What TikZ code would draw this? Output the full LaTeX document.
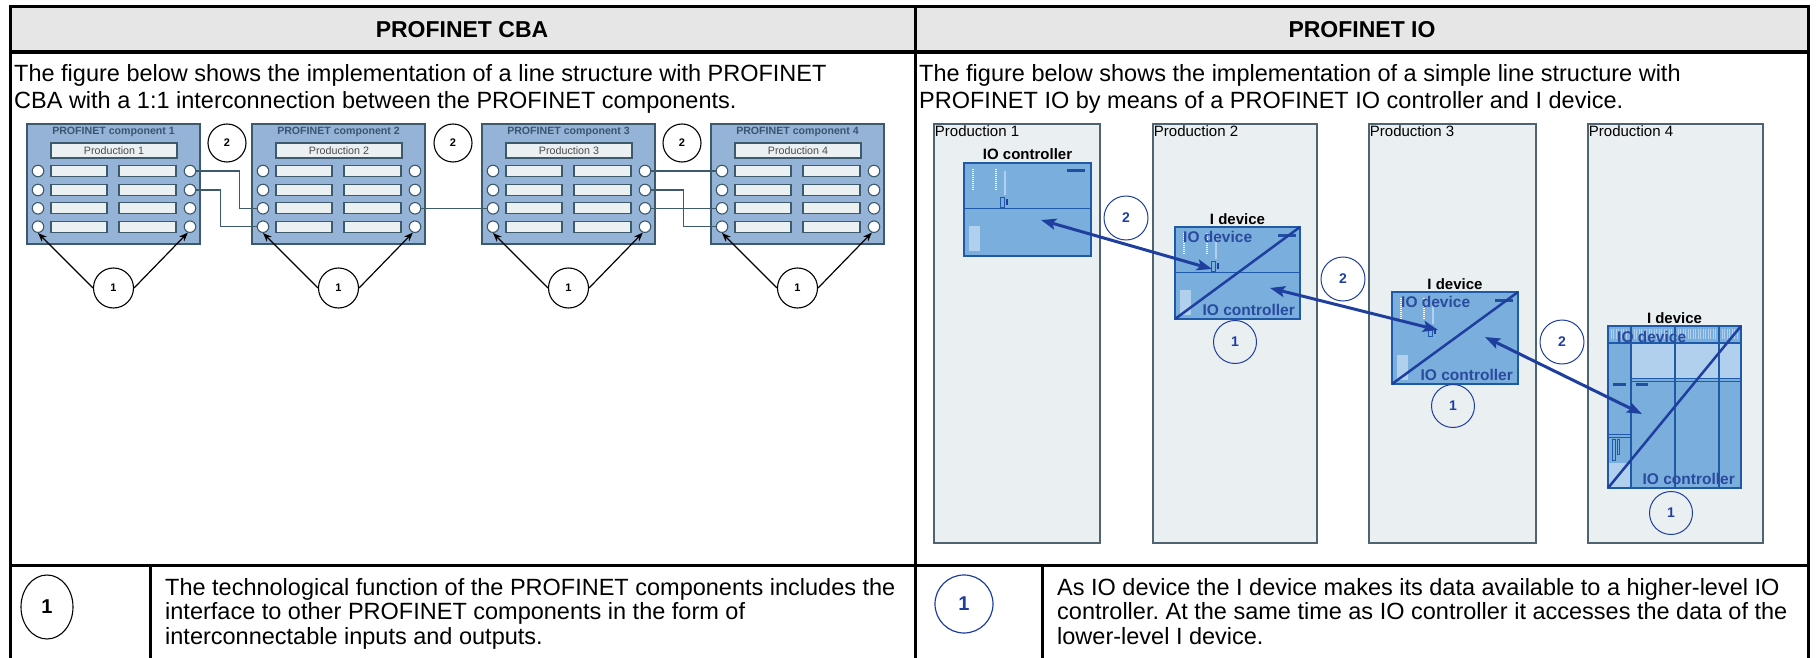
\documentclass[tikz,border=0pt]{standalone}
\usepackage{fontspec}
\setmainfont{Liberation Sans}
\usetikzlibrary{arrows.meta,shapes.geometric}
\definecolor{hdrgray}{HTML}{E6E6E6}
\definecolor{compfill}{HTML}{95B3D7}
\definecolor{compline}{HTML}{3D5A6C}
\definecolor{barfill}{HTML}{EBF0F3}
\definecolor{comptext}{HTML}{3A5570}
\definecolor{prodfill}{HTML}{EAEFF2}
\definecolor{prodline}{HTML}{4F6470}
\definecolor{devfill}{HTML}{7AAEDD}
\definecolor{devline}{HTML}{1E5AA8}
\definecolor{devlight}{HTML}{B0D0EE}
\definecolor{ioblue}{HTML}{1F3F9F}
\definecolor{lblblue}{HTML}{2A4A9E}
\definecolor{devdash}{HTML}{1F4FA0}
\newcommand{\cpudetail}[1]{%
\begin{scope}[shift={(#1.north west)}]
  \draw[white, line width=1.4pt, dash pattern=on 1pt off 1pt] (9,6) -- (9,27);
  \draw[white, line width=1.4pt, dash pattern=on 1pt off 1pt] (32,6) -- (32,27);
  \draw[devlight, line width=1.2pt] (41,8) -- (41,32);
  \draw[devline, line width=0.8pt] (36,34) rectangle (40,44);
  \fill[ioblue] (41.5,36) rectangle (43.5,42);
  \fill[devdash] (103,6.5) rectangle (121,9.5);
  \fill[devlight] (5,63) rectangle (16,88);
\end{scope}}
\frenchspacing
\begin{document}
\begin{tikzpicture}[x=1pt,y=-1pt,
  hdrtext/.style={font=\fontsize{23}{27}\selectfont\bfseries, inner sep=0, anchor=base},
  bodytext/.style={font=\fontsize{23.5}{27}\selectfont, inner sep=0, anchor=base west},
  compbox/.style={draw=compline, fill=compfill, line width=1.3pt, minimum width=173pt, minimum height=120pt, inner sep=0},
  comptitle/.style={font=\fontsize{10.6}{12}\selectfont\bfseries, text=comptext, inner sep=0},
  prodbar/.style={draw=compline, fill=barfill, line width=1.1pt, minimum width=126pt, minimum height=15pt, inner sep=0, font=\fontsize{10.7}{12}\selectfont, text=black!70},
  port/.style={circle, draw=compline, fill=white, line width=1.1pt, minimum size=11.5pt, inner sep=0},
  slot/.style={draw=compline, fill=barfill, line width=1.1pt, minimum height=11pt, inner sep=0},
  cbanum/.style={circle, draw=black, fill=white, line width=1.1pt, inner sep=0, font=\fontsize{11}{13}\selectfont\bfseries},
  conn/.style={draw=compline, line width=1.3pt},
  thinarrow/.style={draw=black, line width=1.2pt, -{Stealth[length=9pt,width=7pt]}},
  prodbox/.style={draw=prodline, fill=prodfill, line width=1.5pt, inner sep=0},
  prodlbl/.style={font=\fontsize{15}{17}\selectfont, inner xsep=1.5pt, inner ysep=2pt, anchor=north west},
  devbox/.style={draw=devline, fill=devfill, line width=2.5pt, inner sep=0, outer sep=0},
  devlbl/.style={font=\fontsize{15}{17}\selectfont\bfseries, inner sep=0, anchor=base},
  inlbl/.style={font=\fontsize{15.5}{17}\selectfont\bfseries, text=lblblue, inner sep=0},
  diag/.style={draw=ioblue, line width=2.5pt},
  ioarrow/.style={draw=ioblue, line width=3pt, {Stealth[length=15pt,width=11pt,inset=3pt]}-{Stealth[length=15pt,width=11pt,inset=3pt]}},
  bnum/.style={circle, draw=ioblue, line width=1pt, minimum size=44pt, inner sep=0, text=ioblue, font=\fontsize{14}{16}\selectfont\bfseries},
  colline/.style={draw=devline, line width=1.5pt},
  thinblue/.style={draw=devline, line width=0.8pt},
  rule/.style={draw=black, line width=3pt}
]
\useasboundingbox (0,0) rectangle (1816,658);
% ---------- table ----------
\fill[hdrgray] (10,7) rectangle (1808,52);
\draw[rule] (10,665) -- (10,7) -- (1808,7) -- (1808,665);
\draw[black, line width=4.5pt] (10,52) -- (1808,52);
\draw[rule] (915,7) -- (915,665);
\draw[rule] (10,565) -- (1808,565);
\draw[rule] (150,565) -- (150,665);
\draw[rule] (1042,565) -- (1042,665);
\node[hdrtext] (h1) at (462,38) {PROFINET CBA};
\node[hdrtext] (h2) at (1362,38) {PROFINET IO};
\node[bodytext] (t1) at (14,81.5) {The figure below shows the implementation of a line structure with PROFINET};
\node[bodytext] (t2) at (14,108.5) {CBA with a 1:1 interconnection between the PROFINET components.};
\node[bodytext] (t3) at (919,81.5) {The figure below shows the implementation of a simple line structure with};
\node[bodytext] (t4) at (919,108.5) {PROFINET IO by means of a PROFINET IO controller and I device.};
% ---------- CBA components ----------
\foreach \i/\xo in {1/27,2/252,3/482,4/711} {
  \node[compbox] (comp\i) at ({\xo+86.5},184) {};
  \node[comptitle] (ct\i) at ({\xo+86.5},132) {PROFINET component \i};
  \node[prodbar] (pb\i) at ({\xo+87},150.5) {Production \i};
  \foreach \r/\yy in {1/171,2/190,3/208.3,4/226.7} {
    \node[port] (L\i\r) at ({\xo+11},\yy) {};
    \node[port] (R\i\r) at ({\xo+163},\yy) {};
    \node[slot, minimum width=56pt] (bl\i\r) at ({\xo+52},\yy) {};
    \node[slot, minimum width=57pt] (br\i\r) at ({\xo+120.5},\yy) {};
  }
  \node[cbanum, minimum size=40pt] (one\i) at ({\xo+86.5},288) {1};
  \draw[thinarrow] (one\i.west) -- (L\i4.south);
  \draw[thinarrow] (one\i.east) -- (R\i4.-110);
}
\node[cbanum, minimum size=38pt] (two1) at (227,143) {2};
\node[cbanum, minimum size=38pt] (two2) at (453,143) {2};
\node[cbanum, minimum size=38pt] (two3) at (682,143) {2};
\draw[conn] (R11.east) -- ++(43,0) |- (L23.west);
\draw[conn] (R12.east) -- ++(24,0) |- (L24.west);
\draw[conn] (R23.east) -- (L33.west);
\draw[conn] (R31.east) -- (L41.west);
\draw[conn] (R32.east) -- ++(32,0) |- (L44.west);
\draw[conn] (R33.east) -- (L43.west);
% ---------- PROFINET IO ----------
\node[prodbox, minimum width=166pt, minimum height=419pt] (P1) at (1017,333.5) {};
\node[prodbox, minimum width=164pt, minimum height=419pt] (P2) at (1235,333.5) {};
\node[prodbox, minimum width=167pt, minimum height=419pt] (P3) at (1452.5,333.5) {};
\node[prodbox, minimum width=175pt, minimum height=419pt] (P4) at (1675.5,333.5) {};
\node[prodlbl] (pl1) at (P1.north west) {Production 1};
\node[prodlbl] (pl2) at (P2.north west) {Production 2};
\node[prodlbl] (pl3) at (P3.north west) {Production 3};
\node[prodlbl] (pl4) at (P4.north west) {Production 4};
% devices
\node[devbox, minimum width=127pt, minimum height=93pt] (D1) at (1027.5,209.5) {};
\node[devbox, minimum width=125pt, minimum height=92pt] (D2) at (1237.5,273) {};
\node[devbox, minimum width=126pt, minimum height=92pt] (D3) at (1455,338) {};
\node[devbox, minimum width=133pt, minimum height=162pt] (D4) at (1674.5,407) {};
\cpudetail{D1}
\cpudetail{D2}
\cpudetail{D3}
\draw[thinblue, line width=1pt] ([yshift=-45pt]D1.north west) -- ([yshift=-45pt]D1.north east);
\draw[thinblue, line width=1pt] ([yshift=-45pt]D2.north west) -- ([yshift=-45pt]D2.north east);
% rack details of D4
\begin{scope}[shift={(D4.north west)}]
  \fill[devlight] (23,17) rectangle (133,52);
  \foreach \k in {3,5.5,...,20} {\draw[devlight, line width=0.7pt] (\k,3) -- (\k,13);}
  \foreach \k in {26,28.5,...,64} {\draw[devlight, line width=0.7pt] (\k,3) -- (\k,13);}
  \foreach \k in {70,72.5,...,108} {\draw[devlight, line width=0.7pt] (\k,3) -- (\k,13);}
  \foreach \k in {114,116.5,...,131} {\draw[devlight, line width=0.7pt] (\k,3) -- (\k,13);}
  \draw[colline] (0,17) -- (133,17);
  \draw[colline] (23,0) -- (23,162);
  \draw[colline] (67,0) -- (67,162);
  \draw[colline] (111,0) -- (111,162);
  \draw[thinblue] (23,52) -- (133,52);
  \draw[thinblue] (23,55) -- (133,55);
  \fill[devdash] (5,56.5) rectangle (18,59.5);
  \fill[devdash] (28,56.5) rectangle (40,59.5);
  \draw[thinblue] (0,108) -- (23,108);
  \draw[thinblue] (0,111) -- (23,111);
  \draw[thinblue, line width=0.6pt] (4,113) rectangle (7,134);
  \draw[thinblue, line width=0.6pt] (9,113) rectangle (11.5,128);
  \fill[devlight] (1,137) rectangle (22,161);
\end{scope}
\draw[devline, line width=2.5pt] (D4.north west) rectangle (D4.south east);
% diagonals
\draw[diag] (D2.south west) -- (D2.north east);
\draw[diag] (D3.south west) -- (D3.north east);
\draw[diag] (D4.south west) -- (D4.north east);
% labels
\node[devlbl] (lc1) at ([yshift=3pt]D1.north) {IO controller};
\node[devlbl] (lc2) at ([yshift=3pt]D2.north) {I device};
\node[devlbl] (lc3) at ([yshift=3pt]D3.north) {I device};
\node[devlbl] (lc4) at ([yshift=3pt]D4.north) {I device};
\node[inlbl, anchor=west] (iod2) at ([xshift=8pt,yshift=-10pt]D2.north west) {IO device};
\node[inlbl, anchor=east] (ioc2) at ([xshift=-5pt,yshift=9pt]D2.south east) {IO controller};
\node[inlbl, anchor=west] (iod3) at ([xshift=9pt,yshift=-10pt]D3.north west) {IO device};
\node[inlbl, anchor=east] (ioc3) at ([xshift=-5pt,yshift=9pt]D3.south east) {IO controller};
\node[inlbl, anchor=west] (iod4) at ([xshift=9pt,yshift=-11pt]D4.north west) {IO device};
\node[inlbl, anchor=east] (ioc4) at ([xshift=-6pt,yshift=9pt]D4.south east) {IO controller};
% arrows
\coordinate (a1s) at (1041,220);
\coordinate (a1e) at (1212,269);
\coordinate (a2s) at (1270,288);
\coordinate (a2e) at (1438,330);
\coordinate (a3s) at (1485,337);
\coordinate (a3e) at (1642,414);
\draw[ioarrow] (a1s) -- (a1e);
\draw[ioarrow] (a2s) -- (a2e);
\draw[ioarrow] (a3s) -- (a3e);
% numbered circles
\node[bnum] (b2a) at (1126,218) {2};
\node[bnum] (b2b) at (1343,279) {2};
\node[bnum] (b2c) at (1562,342) {2};
\node[bnum, minimum size=43pt] (b1a) at (1235,342) {1};
\node[bnum, minimum size=43pt] (b1b) at (1453,406) {1};
\node[bnum, minimum size=43pt] (b1c) at (1671,513) {1};
% ---------- bottom row ----------
\node[draw=black, line width=1.1pt, ellipse, minimum width=52pt, minimum height=64pt, inner sep=0, font=\fontsize{20}{22}\selectfont\bfseries] (k1) at (47,607) {1};
\node[circle, draw=ioblue, line width=1.2pt, minimum size=58pt, inner sep=0, text=ioblue, font=\fontsize{20}{22}\selectfont\bfseries] (k2) at (964,604) {1};
\node[bodytext] (b1) at (165,595) {The technological function of the PROFINET components includes the};
\node[bodytext] (b2) at (165,619.5) {interface to other PROFINET components in the form of};
\node[bodytext] (b3) at (165,644) {interconnectable inputs and outputs.};
\node[bodytext] (b4) at (1057,595) {As IO device the I device makes its data available to a higher-level IO};
\node[bodytext] (b5) at (1057,619.5) {controller. At the same time as IO controller it accesses the data of the};
\node[bodytext] (b6) at (1057,644) {lower-level I device.};
\end{tikzpicture}
\end{document}
